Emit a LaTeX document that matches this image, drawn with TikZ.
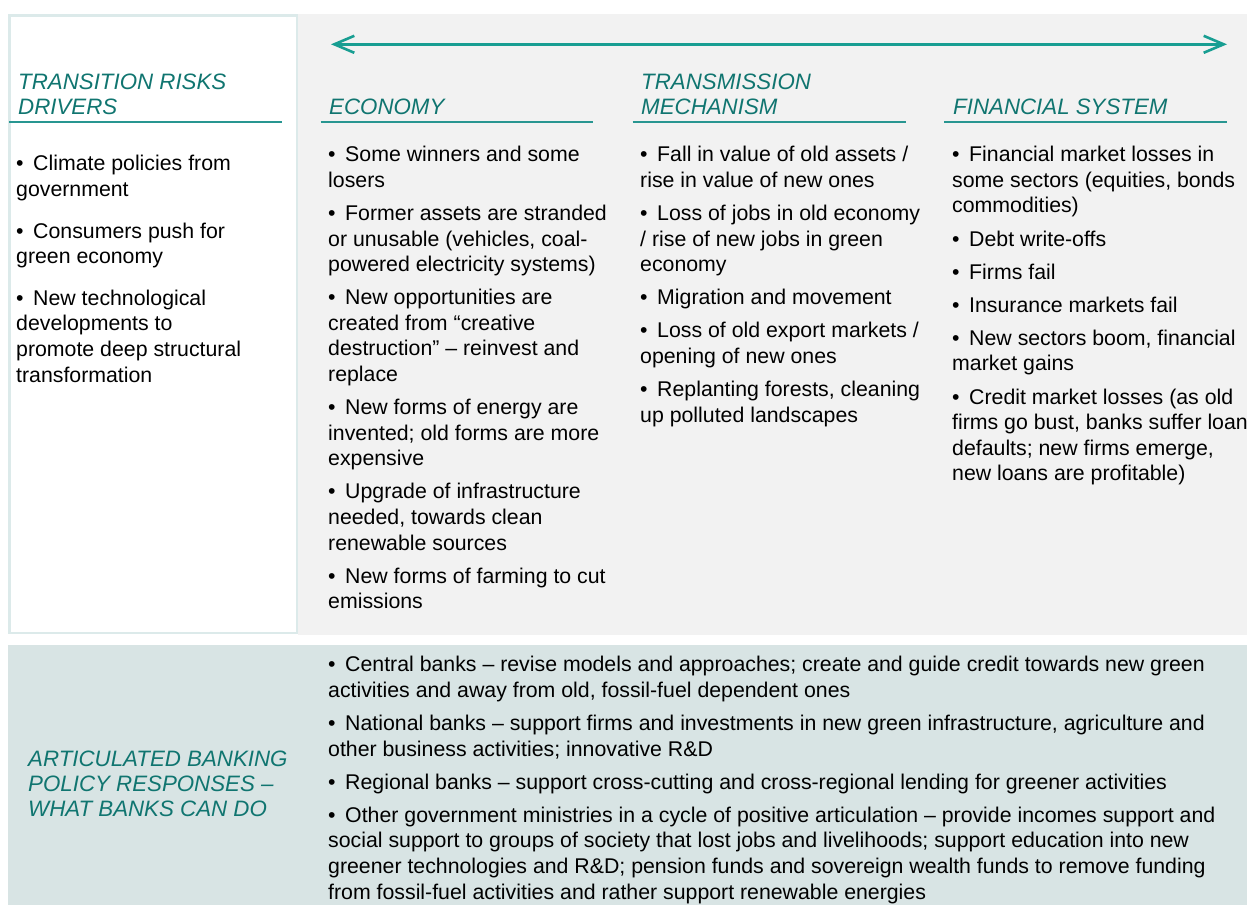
\documentclass[tikz,border=0pt]{standalone}
\usepackage{fontspec}
\setmainfont{Liberation Sans}
\usetikzlibrary{arrows.meta}
\definecolor{headcol}{RGB}{16,117,112}
\definecolor{arrowcol}{RGB}{24,158,146}
\definecolor{rulecol}{RGB}{40,150,145}
\definecolor{graybg}{RGB}{242,242,242}
\definecolor{boxborder}{RGB}{220,234,234}
\definecolor{bottombg}{RGB}{216,228,228}
\newcommand{\bl}{•\hspace{0.45em}}
\newcommand{\fl}{\rule{0pt}{18pt}}
\tikzset{
  head/.style={anchor=north west, align=left, inner sep=0pt, text=headcol,
    font=\fontsize{22.3}{25}\selectfont\itshape},
  body/.style={anchor=north west, align=left, inner sep=0pt, text=black,
    font=\fontsize{21.3}{25.6}\selectfont},
  hrule/.style={draw=rulecol, line width=1.3pt},
}
\begin{document}
\begin{tikzpicture}[x=1pt,y=-1pt]
\useasboundingbox (0,0) rectangle (1247,905);
\fill[graybg] (298,14) rectangle (1247,635);
\draw[boxborder, line width=2.5pt, fill=white] (9.25,15.25) rectangle (296.75,632.75);
\fill[bottombg] (8,645) rectangle (1247,905);

\coordinate (aL) at (331,44.3);
\coordinate (aR) at (1227,44.3);
\draw[arrowcol, line width=2.6pt, {Straight Barb[length=20pt,width=17pt]}-{Straight Barb[length=20pt,width=17pt]}] (aL) -- (aR);

% first baseline minus 18
\node[head] (h1) at (18,71.3) {\fl TRANSITION RISKS\\DRIVERS};
\node[head] (h2) at (329,96.3) {\fl ECONOMY};
\node[head] (h3) at (641,71.3) {\fl TRANSMISSION\\MECHANISM};
\node[head] (h4) at (953,96.3) {\fl FINANCIAL SYSTEM};

\draw[hrule] (9,122) -- (282,122);
\draw[hrule] (320.5,122) -- (593,122);
\draw[hrule] (632.5,122) -- (906,122);
\draw[hrule] (944,122) -- (1226.5,122);

\node[body] (c1) at (16,152.7) {\fl\bl Climate policies from\\government\\[16pt]
\bl Consumers push for\\green economy\\[16pt]
\bl New technological\\developments to\\promote deep structural\\transformation};

\node[body] (c2) at (328,143.5) {\fl\bl Some winners and some\\losers\\[7.5pt]
\bl Former assets are stranded\\or unusable (vehicles, coal-\\powered electricity systems)\\[7.5pt]
\bl New opportunities are\\created from “creative\\destruction” – reinvest and\\replace\\[7.5pt]
\bl New forms of energy are\\invented; old forms are more\\expensive\\[7.5pt]
\bl Upgrade of infrastructure\\needed, towards clean\\renewable sources\\[7.5pt]
\bl New forms of farming to cut\\emissions};

\node[body] (c3) at (640,143.5) {\fl\bl Fall in value of old assets /\\rise in value of new ones\\[7.5pt]
\bl Loss of jobs in old economy\\/ rise of new jobs in green\\economy\\[7.5pt]
\bl Migration and movement\\[7.5pt]
\bl Loss of old export markets /\\opening of new ones\\[7.5pt]
\bl Replanting forests, cleaning\\up polluted landscapes};

\node[body] (c4) at (952,143.5) {\fl\bl Financial market losses in\\some sectors (equities, bonds\\commodities)\\[7.5pt]
\bl Debt write-offs\\[7.5pt]
\bl Firms fail\\[7.5pt]
\bl Insurance markets fail\\[7.5pt]
\bl New sectors boom, financial\\market gains\\[7.5pt]
\bl Credit market losses (as old\\firms go bust, banks suffer loan\\defaults; new firms emerge,\\new loans are profitable)};

\node[head] (h5) at (28,748.5) {\fl ARTICULATED BANKING\\POLICY RESPONSES –\\WHAT BANKS CAN DO};

\node[body] (c5) at (328,653.5) {\fl\bl Central banks – revise models and approaches; create and guide credit towards new green\\activities and away from old, fossil-fuel dependent ones\\[7.5pt]
\bl National banks – support firms and investments in new green infrastructure, agriculture and\\other business activities; innovative R\&D\\[7.5pt]
\bl Regional banks – support cross-cutting and cross-regional lending for greener activities\\[7.5pt]
\bl Other government ministries in a cycle of positive articulation – provide incomes support and\\social support to groups of society that lost jobs and livelihoods; support education into new\\greener technologies and R\&D; pension funds and sovereign wealth funds to remove funding\\from fossil-fuel activities and rather support renewable energies};
\end{tikzpicture}
\end{document}
